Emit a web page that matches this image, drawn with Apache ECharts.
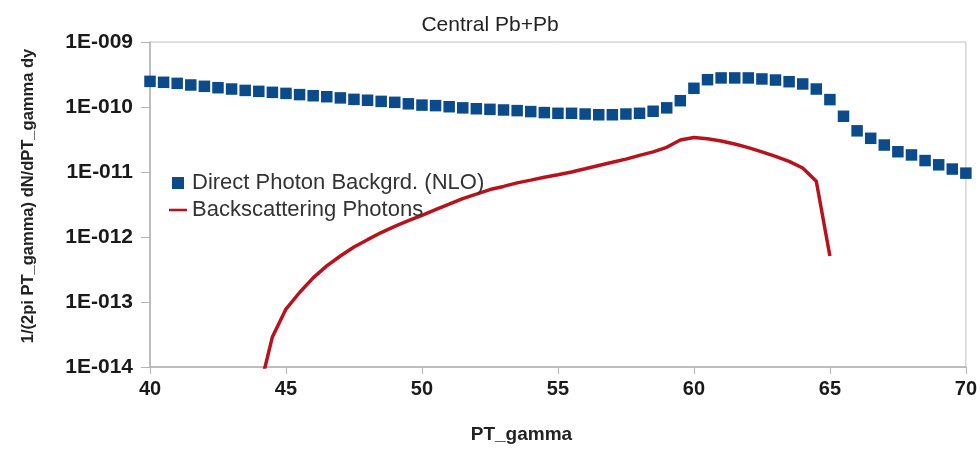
<!DOCTYPE html>
<html>
<head>
<meta charset="utf-8">
<script src="https://cdn.jsdelivr.net/npm/echarts@6/dist/echarts.min.js"></script>
<style>
html,body{margin:0;padding:0;background:#fff;}
#chart{width:980px;height:449px;}
</style>
</head>
<body>
<div id="chart"></div>
<script>
// ---- data ----
var titleText = 'Central Pb+Pb';
var xName = 'PT_gamma';
var yName = '1/(2pi PT_gamma) dN/dPT_gamma dy';
var seriesNames = ['Direct Photon Backgrd. (NLO)', 'Backscattering Photons'];

var directPt = [40,40.5,41,41.5,42,42.5,43,43.5,44,44.5,45,45.5,46,46.5,47,47.5,48,48.5,49,49.5,
  50,50.5,51,51.5,52,52.5,53,53.5,54,54.5,55,55.5,56,56.5,57,57.5,58,58.5,59,59.5,
  60,60.5,61,61.5,62,62.5,63,63.5,64,64.5,65,65.5,66,66.5,67,67.5,68,68.5,69,69.5,70];
var directValues = [2.48e-10,2.40e-10,2.31e-10,2.18e-10,2.08e-10,1.98e-10,1.89e-10,1.80e-10,1.74e-10,1.68e-10,
  1.62e-10,1.55e-10,1.49e-10,1.44e-10,1.38e-10,1.31e-10,1.27e-10,1.22e-10,1.18e-10,1.12e-10,
  1.07e-10,1.05e-10,1.01e-10,9.7e-11,9.4e-11,9.2e-11,9.0e-11,8.8e-11,8.5e-11,8.2e-11,
  8.0e-11,8.0e-11,7.8e-11,7.6e-11,7.6e-11,7.8e-11,8.0e-11,8.6e-11,9.7e-11,1.25e-10,
  1.94e-10,2.63e-10,2.8e-10,2.8e-10,2.8e-10,2.7e-10,2.6e-10,2.45e-10,2.26e-10,1.89e-10,
  1.3e-10,7.2e-11,4.3e-11,3.3e-11,2.6e-11,2.05e-11,1.83e-11,1.5e-11,1.29e-11,1.11e-11,9.6e-12];

var backPt = [44,44.5,45,45.5,46,46.5,47,47.5,48,48.5,49,49.5,50,50.5,51,51.5,52,52.5,53,53.5,
  54,54.5,55,55.5,56,56.5,57,57.5,58,58.5,59,59.5,60,60.5,61,61.5,62,62.5,63,63.5,64,64.5,65];
var backValues = [4e-15,2.9e-14,7.8e-14,1.4e-13,2.35e-13,3.6e-13,5.1e-13,7.0e-13,9.1e-13,1.17e-12,
  1.46e-12,1.78e-12,2.16e-12,2.63e-12,3.2e-12,3.9e-12,4.57e-12,5.37e-12,6.0e-12,6.8e-12,
  7.5e-12,8.3e-12,9.1e-12,1.0e-11,1.12e-11,1.26e-11,1.41e-11,1.58e-11,1.8e-11,2.04e-11,
  2.4e-11,3.1e-11,3.4e-11,3.24e-11,3.0e-11,2.7e-11,2.37e-11,2.04e-11,1.74e-11,1.46e-11,
  1.15e-11,7.2e-12,5.1e-13];

var xTicks = {min: 40, max: 70, step: 5};
var yRange = {min: 1e-14, max: 1e-9};

// ---- chart ----
function zip(a, b) { return a.map(function (v, i) { return [v, b[i]]; }); }
function yLabel(v) {
  var e = Math.round(Math.log10(v));
  var s = String(Math.abs(e));
  while (s.length < 3) s = '0' + s;
  return '1E' + (e < 0 ? '-' : '+') + s;
}

var FONT = 'Liberation Sans, Arial, sans-serif';
var chart = echarts.init(document.getElementById('chart'), null, {renderer: 'canvas'});
chart.setOption({
  backgroundColor: '#ffffff',
  animation: false,
  title: {
    text: titleText,
    left: 485,
    textAlign: 'center',
    top: 10,
    textStyle: {fontFamily: FONT, fontSize: 21, fontWeight: 'normal', color: '#222'}
  },
  grid: {left: 150, right: 13, top: 42, bottom: 80, show: true, borderColor: '#c0c0c0', borderWidth: 1},
  legend: {
    orient: 'vertical',
    left: 164,
    top: 167,
    itemWidth: 18,
    itemHeight: 12,
    itemGap: 5,
    textStyle: {fontFamily: FONT, fontSize: 22, color: '#333'},
    data: [
      {name: seriesNames[0], icon: 'path://M0 0H10V10H0Z', itemStyle: {color: '#0b4a8b', opacity: 1}},
      {name: seriesNames[1], icon: 'path://M0 0H24V3.4H0Z', itemStyle: {color: '#b8131c'}}
    ]
  },
  xAxis: {
    type: 'value',
    min: xTicks.min,
    max: xTicks.max,
    interval: xTicks.step,
    name: xName,
    nameLocation: 'middle',
    nameGap: 58,
    nameTextStyle: {fontFamily: FONT, fontSize: 19, fontWeight: 'bold', color: '#222', padding: [0, 73, 0, 0]},
    axisLine: {lineStyle: {color: '#b3b3b3', width: 1.5}},
    axisTick: {show: true, length: 7, lineStyle: {color: '#b3b3b3'}},
    axisLabel: {fontFamily: FONT, fontSize: 20, fontWeight: 'bold', color: '#1a1a1a', margin: 12},
    splitLine: {show: false}
  },
  yAxis: {
    type: 'log',
    logBase: 10,
    min: yRange.min,
    max: yRange.max,
    name: yName,
    nameLocation: 'middle',
    nameGap: 113,
    nameTextStyle: {fontFamily: FONT, fontSize: 16.5, fontWeight: 'bold', color: '#222', padding: [0, 0, 0, 17]},
    axisLine: {show: true, lineStyle: {color: '#b3b3b3', width: 1.5}},
    axisTick: {show: true, length: 9, lineStyle: {color: '#b3b3b3'}},
    axisLabel: {fontFamily: FONT, fontSize: 21, fontWeight: 'bold', color: '#1a1a1a', margin: 17, formatter: yLabel},
    splitLine: {show: false},
    minorTick: {show: false}
  },
  series: [
    {
      name: seriesNames[0],
      type: 'scatter',
      symbol: 'rect',
      symbolSize: 11.5,
      itemStyle: {color: '#0b4a8b', opacity: 1},
      data: zip(directPt, directValues),
      z: 3
    },
    {
      name: seriesNames[1],
      type: 'line',
      symbol: 'none',
      showSymbol: false,
      clip: true,
      lineStyle: {color: '#b8131c', width: 3.5},
      itemStyle: {color: '#b8131c'},
      data: zip(backPt, backValues),
      z: 2
    }
  ]
});
</script>
</body>
</html>
